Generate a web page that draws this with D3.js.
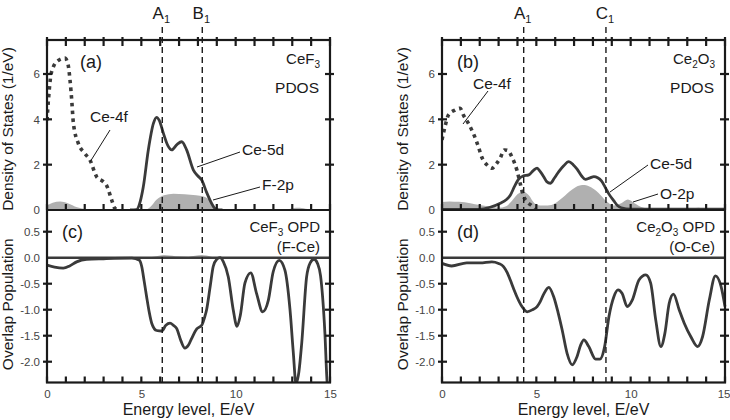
<!DOCTYPE html>
<html><head><meta charset="utf-8">
<script src="https://cdn.jsdelivr.net/npm/d3@7"></script>
<style>
body{margin:0;background:#fff}
svg{display:block}
text{font-family:"Liberation Sans",Arial,Helvetica,sans-serif}
</style>
</head><body>
<svg id="c" width="730" height="420"></svg>
<script>
// ---------------- DATA ----------------
// [energy (eV), value]
const cef3Ce4f = [[0,3.95],[0.08,4.9],[0.18,5.8],[0.33,6.3],[0.6,6.6],[0.95,6.7],[1.12,6.4],[1.22,5.73],[1.31,4.85],[1.4,3.82],[1.66,2.94],[2.0,2.5],[2.28,2.2],[2.63,1.47],[2.98,1.25],[3.15,1.1],[3.43,0.44],[3.6,0.07],[3.8,0]];
const cef3Ce5d = [[4.4,0],[4.75,0.02],[4.95,0.4],[5.1,1.0],[5.37,2.65],[5.64,3.82],[5.81,4.09],[5.95,3.95],[6.17,3.38],[6.4,2.85],[6.61,2.65],[6.9,2.9],[7.14,3.01],[7.4,2.65],[7.76,1.76],[8.0,1.5],[8.2,1.32],[8.45,0.8],[8.64,0.44],[8.85,0.12],[9.0,0.02],[9.3,0]];
const cef3F2p = [[0,0.2],[0.3,0.32],[0.7,0.37],[1.1,0.3],[1.6,0.12],[2.1,0.03],[2.6,0],[5.2,0],[5.5,0.15],[5.8,0.45],[6.2,0.65],[6.7,0.72],[7.3,0.7],[7.9,0.65],[8.3,0.6],[8.6,0.45],[8.9,0.1],[9.2,0],[12.6,0],[13.0,0.08],[13.4,0.1],[13.8,0.04],[14.1,0],[15,0]];
const cef3Opd = [[0,-0.14],[0.4,-0.18],[0.86,-0.2],[1.2,-0.16],[1.57,-0.08],[2.1,-0.03],[3,-0.02],[4.5,-0.01],[4.9,-0.05],[5.02,-0.17],[5.15,-0.45],[5.28,-0.75],[5.42,-1.05],[5.55,-1.26],[5.81,-1.4],[6.08,-1.41],[6.3,-1.3],[6.52,-1.26],[6.7,-1.3],[6.87,-1.36],[7.1,-1.6],[7.31,-1.74],[7.5,-1.68],[7.67,-1.55],[7.94,-1.37],[8.2,-1.3],[8.35,-1.15],[8.46,-1.0],[8.65,-0.55],[8.81,-0.17],[9.0,-0.03],[9.17,0.0],[9.35,-0.08],[9.61,-0.37],[9.87,-1.0],[10.07,-1.32],[10.25,-1.1],[10.49,-0.49],[10.8,-0.29],[11.11,-0.69],[11.43,-1.04],[11.73,-0.82],[11.99,-0.27],[12.31,-0.05],[12.61,-0.24],[12.88,-1.0],[13.05,-1.8],[13.2,-2.42],[13.35,-2.2],[13.5,-1.65],[13.76,-0.37],[13.95,-0.1],[14.15,-0.03],[14.35,-0.12],[14.5,-0.35],[14.73,-1.45],[14.85,-2.4],[14.95,-2.6]];
const cef3OpdGray = [[5.3,0],[5.8,0.03],[6.2,0.05],[6.8,0.03],[7.5,0.02],[8.2,0.05],[8.7,0.02],[9.0,0]];

const ce2o3Ce4f = [[0,3.09],[0.18,3.75],[0.34,4.19],[0.69,4.41],[0.96,4.49],[1.13,4.2],[1.4,3.82],[1.66,3.38],[1.93,2.79],[2.1,2.35],[2.38,1.99],[2.64,1.84],[2.9,2.06],[3.08,2.28],[3.3,2.65],[3.5,2.62],[3.7,2.35],[3.97,1.76],[4.15,1.15],[4.33,0.59],[4.5,0.37],[4.77,0.18],[4.95,0.03]];
const ce2o3Ce5d = [[0,0.03],[2.0,0.03],[2.55,0.12],[3.09,0.3],[3.4,0.45],[3.62,0.65],[3.85,1.05],[4.05,1.35],[4.3,1.5],[4.6,1.55],[4.85,1.75],[5.04,1.85],[5.2,1.7],[5.39,1.47],[5.55,1.25],[5.74,1.18],[5.95,1.4],[6.19,1.69],[6.45,1.95],[6.72,2.13],[6.95,2.0],[7.16,1.8],[7.4,1.5],[7.6,1.35],[7.85,1.42],[8.05,1.47],[8.25,1.42],[8.45,1.28],[8.65,1.0],[8.85,0.7],[9.11,0.4],[9.3,0.2],[9.5,0.1],[10,0.04],[15,0.04]];
const ce2o3O2p = [[0,0.35],[0.4,0.38],[0.9,0.36],[1.5,0.3],[2.0,0.22],[2.5,0.15],[3.0,0.1],[3.4,0.17],[3.7,0.4],[4.0,0.7],[4.33,0.81],[4.6,0.65],[4.9,0.3],[5.2,0.2],[5.6,0.2],[6.0,0.3],[6.4,0.55],[6.9,0.9],[7.3,1.08],[7.55,1.1],[7.9,1.0],[8.3,0.75],[8.7,0.4],[9.1,0.2],[9.5,0.3],[9.85,0.46],[10.2,0.3],[10.6,0.12],[11,0.06],[13,0.05],[13.6,0.1],[14.0,0.05],[15,0.03]];
const ce2o3Opd = [[0,-0.11],[0.51,-0.16],[1.31,-0.1],[2.02,-0.1],[2.64,-0.08],[3.0,-0.11],[3.26,-0.17],[3.45,-0.28],[3.62,-0.43],[3.8,-0.6],[3.97,-0.75],[4.24,-0.94],[4.51,-1.04],[4.8,-1.0],[5.04,-0.94],[5.2,-0.85],[5.39,-0.7],[5.66,-0.57],[5.92,-0.75],[6.15,-1.05],[6.37,-1.39],[6.63,-1.84],[6.9,-2.06],[7.16,-1.9],[7.35,-1.68],[7.52,-1.58],[7.78,-1.71],[8.14,-1.95],[8.37,-1.95],[8.62,-1.71],[8.85,-1.13],[9.11,-0.75],[9.33,-0.62],[9.55,-0.69],[9.82,-0.94],[10.09,-0.81],[10.44,-0.43],[10.8,-0.33],[11.06,-0.49],[11.33,-1.2],[11.6,-1.71],[11.81,-1.46],[12.04,-0.88],[12.27,-0.7],[12.57,-1.0],[12.84,-1.26],[13.19,-1.52],[13.55,-1.71],[13.81,-1.52],[14.17,-0.81],[14.49,-0.35],[14.79,-0.55],[15.0,-0.94]];

const cef3Marks = [{name:"A", sub:"1", e:6.11},{name:"B", sub:"1", e:8.23}];
const ce2o3Marks = [{name:"A", sub:"1", e:4.33},{name:"C", sub:"1", e:8.69}];

const xTickLabels = [0,5,10,15];
const xMinorTicks = [0,1,2,3,4,5,6,7,8,9,10,11,12,13,14,15];
const dosTickLabels = [0,2,4,6];
const opdTickLabels = [0.5,0.0,-0.5,-1.0,-1.5,-2.0];

// ---------------- DRAW ----------------
const svg = d3.select("#c");
const yTopPx = 40, yMidPx = 210, yBotPx = 382.5;
const dark = "#3a3a3a", ink = "#1a1a1a", fillGray = "#b0b0b0", tickTxt = "#444";
const tickCol = ink;

function drawSide(cfg, idx){
  const g = svg.append("g");
  const x = d3.scaleLinear().domain([0,15]).range([cfg.x0, cfg.x1]);
  const yD = d3.scaleLinear().domain([0,7.5]).range([yMidPx, yTopPx]);
  const yO = d3.scaleLinear().domain([-2.4,0.9]).range([yBotPx, yMidPx + 0.9]);

  const defs = svg.append("defs");
  defs.append("clipPath").attr("id","ct"+idx).append("rect")
    .attr("x",cfg.x0).attr("y",yTopPx).attr("width",cfg.x1-cfg.x0).attr("height",yMidPx-yTopPx);
  defs.append("clipPath").attr("id","cb"+idx).append("rect")
    .attr("x",cfg.x0).attr("y",yMidPx).attr("width",cfg.x1-cfg.x0+ (idx===1?10:0)).attr("height",yBotPx-yMidPx);

  const lineD = d3.line().x(d=>x(d[0])).y(d=>yD(d[1])).curve(d3.curveMonotoneX);
  const areaD = d3.area().x(d=>x(d[0])).y0(yD(0)).y1(d=>yD(d[1])).curve(d3.curveMonotoneX);
  const lineO = d3.line().x(d=>x(d[0])).y(d=>yO(d[1])).curve(d3.curveMonotoneX);
  const areaO = d3.area().x(d=>x(d[0])).y0(yO(0)).y1(d=>yO(d[1])).curve(d3.curveMonotoneX);

  const gt = g.append("g").attr("clip-path","url(#ct"+idx+")");
  gt.append("path").attr("d",areaD(cfg.p2)).attr("fill",fillGray);
  gt.append("path").attr("d",lineD(cfg.f4)).attr("fill","none").attr("stroke",dark)
    .attr("stroke-width",3.6).attr("stroke-dasharray","3.5,4.2");
  gt.append("path").attr("d",lineD(cfg.d5)).attr("fill","none").attr("stroke",dark)
    .attr("stroke-width",2.8).attr("stroke-linejoin","round");

  const gb = g.append("g").attr("clip-path","url(#cb"+idx+")");
  if (cfg.opdGray) gb.append("path").attr("d",areaO(cfg.opdGray)).attr("fill",fillGray);
  gb.append("line").attr("x1",cfg.x0).attr("x2",cfg.x1).attr("y1",yO(0)).attr("y2",yO(0))
    .attr("stroke",dark).attr("stroke-width",2.6);
  gb.append("path").attr("d",lineO(cfg.opd)).attr("fill","none").attr("stroke",dark)
    .attr("stroke-width",2.8).attr("stroke-linejoin","round");

  cfg.marks.forEach(m=>{
    g.append("line").attr("x1",x(m.e)).attr("x2",x(m.e)).attr("y1",27).attr("y2",yBotPx)
      .attr("stroke",ink).attr("stroke-width",1.4).attr("stroke-dasharray","6,4");
    const t = g.append("text").attr("x",x(m.e)-1).attr("y",19).attr("text-anchor","middle")
      .attr("font-size",17).attr("fill",ink);
    t.append("tspan").text(m.name);
    t.append("tspan").attr("font-size",11).attr("dy",4).text(m.sub);
  });

  g.append("rect").attr("x",cfg.x0).attr("y",yTopPx).attr("width",cfg.x1-cfg.x0).attr("height",yBotPx-yTopPx)
    .attr("fill","none").attr("stroke",ink).attr("stroke-width",2.2);
  g.append("line").attr("x1",cfg.x0).attr("x2",cfg.x1).attr("y1",yMidPx).attr("y2",yMidPx)
    .attr("stroke",ink).attr("stroke-width",2.2);

  const vt = (vals, yA, yB) => g.append("g").selectAll("line").data(vals).join("line")
    .attr("x1",d=>x(d)).attr("x2",d=>x(d)).attr("y1",yA).attr("y2",yB)
    .attr("stroke",tickCol).attr("stroke-width",2.2);
  vt(xMinorTicks, yTopPx-3, yTopPx+6);
  vt(xMinorTicks, yMidPx, yMidPx-6);
  vt(xMinorTicks, yBotPx, yBotPx-6);
  const ht = (vals, sc, xA, xB) => g.append("g").selectAll("line").data(vals).join("line")
    .attr("y1",d=>sc(d)).attr("y2",d=>sc(d)).attr("x1",xA).attr("x2",xB)
    .attr("stroke",tickCol).attr("stroke-width",2.2);
  ht([2,4,6], yD, cfg.x0-4, cfg.x0+5);
  ht([2,4,6], yD, cfg.x1-5, cfg.x1+4);
  ht(opdTickLabels.filter(v=>v!==0), yO, cfg.x0-4, cfg.x0+5);
  ht(opdTickLabels.filter(v=>v!==0), yO, cfg.x1-5, cfg.x1+4);

  const axB = g.append("g").attr("transform",`translate(0,${yBotPx})`)
    .call(d3.axisBottom(x).tickValues(xTickLabels).tickSize(0).tickPadding(7).tickFormat(d3.format("d")));
  if (idx===1) axB.selectAll(".tick text").filter(d=>d===15).attr("text-anchor","end").attr("dx",5);
  g.append("g").attr("transform",`translate(${cfg.x0},0)`)
    .call(d3.axisLeft(yD).tickValues(dosTickLabels).tickFormat(d3.format("d")).tickSize(0).tickPadding(7));
  g.append("g").attr("transform",`translate(${cfg.x0},0)`)
    .call(d3.axisLeft(yO).tickValues(opdTickLabels).tickFormat(d=>d.toFixed(1)).tickSize(0).tickPadding(7));

  g.selectAll(".domain").remove();
  g.selectAll(".tick text").attr("font-size",11.5).attr("fill",tickTxt)
    .attr("font-family",'"Liberation Sans",Arial,sans-serif');

  const cx = (cfg.x0+cfg.x1)/2;
  g.append("text").attr("x",cx).attr("y",415).attr("text-anchor","middle")
    .attr("font-size",16).attr("fill",ink).text("Energy level, E/eV");
  g.append("text").attr("transform",`translate(${cfg.x0-34},${(yTopPx+yMidPx)/2+4}) rotate(-90)`)
    .attr("text-anchor","middle").attr("font-size",15.5).attr("fill",ink).text("Density of States (1/eV)");
  g.append("text").attr("transform",`translate(${cfg.x0-34},${(yMidPx+yBotPx)/2+8}) rotate(-90)`)
    .attr("text-anchor","middle").attr("font-size",15.5).attr("fill",ink).text("Overlap Population");

  const txt = (xx,yy,s,anchor,size)=> g.append("text").attr("x",xx).attr("y",yy)
    .attr("text-anchor",anchor||"start").attr("font-size",size||15.5).attr("fill",ink).text(s);
  const lead = (a,b)=> g.append("line").attr("x1",a[0]).attr("y1",a[1]).attr("x2",b[0]).attr("y2",b[1])
    .attr("stroke",ink).attr("stroke-width",1);

  txt(cfg.x0+cfg.pan, 68, cfg.panTop, "start", 18);
  txt(cfg.x0+15, 238, cfg.panBot, "start", 18);
  const comp = (yy, parts) => {
    const t = g.append("text").attr("x",cfg.x1-10).attr("y",yy).attr("text-anchor","end")
      .attr("font-size",15).attr("fill",ink);
    parts.forEach(p=>{
      if (p.sub) t.append("tspan").attr("font-size",10).attr("dy",3.5).text(p.s);
      else t.append("tspan").attr("dy", p.up ? -3.5 : 0).text(p.s);
    });
    return t;
  };
  comp(64, cfg.compound);
  txt(cfg.x1-11, 93, "PDOS", "end", 15.5);
  comp(232, cfg.compound.concat([{s:" OPD", up:true}]));
  txt(cfg.x1-10, 252, cfg.bond, "end", 15);

  cfg.labels.forEach(l=>{
    lead(l.from, l.to);
    txt(l.tx, l.ty, l.s);
  });
}

drawSide({
  x0:47, x1:330,
  f4:cef3Ce4f, d5:cef3Ce5d, p2:cef3F2p, opd:cef3Opd, opdGray:cef3OpdGray, marks:cef3Marks,
  pan:33, panTop:"(a)", panBot:"(c)",
  compound:[{s:"CeF"},{s:"3",sub:true}],
  bond:"(F-Ce)",
  labels:[
    {s:"Ce-4f", tx:90, ty:122, from:[90,162], to:[110,130]},
    {s:"Ce-5d", tx:242, ty:155, from:[197,167], to:[240,152]},
    {s:"F-2p", tx:262, ty:190, from:[213,200], to:[260,187]}
  ]
},0);

drawSide({
  x0:442, x1:725,
  f4:ce2o3Ce4f, d5:ce2o3Ce5d, p2:ce2o3O2p, opd:ce2o3Opd, marks:ce2o3Marks,
  pan:15, panTop:"(b)", panBot:"(d)",
  compound:[{s:"Ce"},{s:"2",sub:true},{s:"O",up:true},{s:"3",sub:true}],
  bond:"(O-Ce)",
  labels:[
    {s:"Ce-4f", tx:473, ty:89, from:[463,124], to:[488,91]},
    {s:"Ce-5d", tx:650, ty:169, from:[610,192], to:[648,165]},
    {s:"O-2p", tx:660, ty:199, from:[633,202], to:[658,194]}
  ]
},1);
</script>
</body></html>
